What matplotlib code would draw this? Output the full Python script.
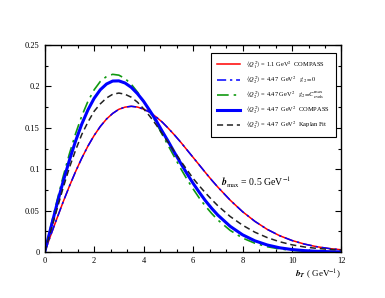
import matplotlib
matplotlib.use("Agg")
import matplotlib.pyplot as plt
from matplotlib.ticker import MultipleLocator

b = [0, 0.25, 0.5, 0.75, 1, 1.25, 1.5, 1.75, 2, 2.25, 2.5, 2.75, 3, 3.25, 3.5,
     3.75, 4, 4.25, 4.5, 4.75, 5, 5.25, 5.5, 5.75, 6, 6.25, 6.5, 6.75, 7,
     7.5, 8, 8.5, 9, 9.5, 10, 10.5, 11, 11.5, 12]
red_q1 = [0, 0.0207, 0.0410, 0.0608, 0.0796, 0.0972, 0.1134, 0.1280, 0.1408,
          0.1517, 0.1606, 0.1674, 0.1724, 0.1750, 0.1760, 0.1751, 0.1726,
          0.1688, 0.1633, 0.1570, 0.1494, 0.1413, 0.1327, 0.1235, 0.1144,
          0.1052, 0.0960, 0.0870, 0.0785,
          0.0627, 0.0488, 0.0371, 0.0274, 0.0198, 0.0140, 0.0097, 0.0065,
          0.0043, 0.0028]
blue_g0 = [0, 0.0207, 0.0410, 0.0608, 0.0796, 0.0972, 0.1134, 0.1280, 0.1408,
           0.1517, 0.1606, 0.1674, 0.1724, 0.1750, 0.1760, 0.1751, 0.1726,
           0.1688, 0.1633, 0.1570, 0.1494, 0.1413, 0.1327, 0.1235, 0.1144,
           0.1052, 0.0960, 0.0870, 0.0785,
           0.0627, 0.0488, 0.0371, 0.0274, 0.0198, 0.0140, 0.0097, 0.0065,
           0.0043, 0.0028]
green_cmax = [0, 0.0315, 0.0622, 0.0915, 0.1186, 0.1430, 0.1643, 0.1820,
              0.1959, 0.2060, 0.2120, 0.2146, 0.2136, 0.2095, 0.2026, 0.1933,
              0.1823, 0.1698, 0.1564, 0.1421, 0.1283, 0.1146, 0.1009, 0.0881,
              0.0763, 0.0653, 0.0555, 0.0467, 0.0388,
              0.0262, 0.0170, 0.0107, 0.0065, 0.0038, 0.0022, 0.0012, 0.0006,
              0.0003, 0.0001]
blue_compass = [0, 0.0293, 0.0580, 0.0854, 0.1109, 0.1341, 0.1545, 0.1717,
                0.1856, 0.1960, 0.2029, 0.2065, 0.2067, 0.2041, 0.1989, 0.1913,
                0.1820, 0.1708, 0.1591, 0.1460, 0.1334, 0.1201, 0.1073, 0.0949,
                0.0831, 0.0722, 0.0620, 0.0529, 0.0447,
                0.0311, 0.0209, 0.0136, 0.0086, 0.0052, 0.0031, 0.0018, 0.0010,
                0.0005, 0.0003]
black_kaplan = [0, 0.026, 0.052, 0.078, 0.102, 0.123, 0.142, 0.157, 0.170,
                0.179, 0.186, 0.1905, 0.192, 0.1905, 0.187, 0.181, 0.173,
                0.164, 0.154, 0.143, 0.132, 0.121, 0.110, 0.0995, 0.089,
                0.080, 0.0715, 0.0635, 0.056,
                0.043, 0.0325, 0.024, 0.0175, 0.0125, 0.0088, 0.0062, 0.0045,
                0.0033, 0.0025]

labels = [
    r"$\langle Q_1^{\,2}\rangle$ = 1.1 GeV$^2$  COMPASS",
    r"$\langle Q_2^{\,2}\rangle$ = 4.47  GeV$^2$   $g_2 = 0$",
    r"$\langle Q_2^{\,2}\rangle$ = 4.47 GeV$^2$   $g_2\!=\!C^{\rm max}_{\rm evols}$",
    r"$\langle Q_2^{\,2}\rangle$ = 4.47  GeV$^2$  COMPASS",
    r"$\langle Q_2^{\,2}\rangle$ = 4.47  GeV$^2$  Kaplan Fit",
]
xticks = [0, 2, 4, 6, 8, 10, 12]
yticks = [0, 0.05, 0.1, 0.15, 0.2, 0.25]
yticklabels = ["0", "0.05", "0.1", "0.15", "0.2", "0.25"]

plt.rcParams['font.family'] = ['Liberation Serif', 'DejaVu Serif']
plt.rcParams['mathtext.fontset'] = 'stix'

fig = plt.figure(figsize=(3.85, 2.98), dpi=100)
ax = fig.add_axes([0.116, 0.154, 0.771, 0.695])

ax.plot(b, red_q1, color='red', lw=1.1, label=labels[0])
ax.plot(b, blue_g0, color='blue', lw=1.1, dashes=(6, 2.5, 1.5, 2.5), label=labels[1])
ax.plot(b, green_cmax, color='#119911', lw=1.2, dashes=(7, 3, 1.5, 3), label=labels[2])
ax.plot(b, blue_compass, color='blue', lw=2.2, label=labels[3])
ax.plot(b, black_kaplan, color='#222222', lw=1.1, dashes=(4, 2.5), label=labels[4])

ax.set_xlim(0, 12)
ax.set_ylim(0, 0.25)
ax.set_xticks(xticks)
ax.set_xticklabels([str(x) for x in xticks])
ax.set_yticks(yticks)
ax.set_yticklabels(yticklabels)
ax.xaxis.set_minor_locator(MultipleLocator(2/3))
ax.yaxis.set_minor_locator(MultipleLocator(0.025))
ax.tick_params(which='both', direction='in', top=True, right=True, labelsize=6, width=0.8)
ax.tick_params(which='major', length=4)
ax.tick_params(which='minor', length=2)
for s in ax.spines.values():
    s.set_linewidth(1.0)

ax.text(1.0, -0.075, r"$\boldsymbol{b}_{\boldsymbol{T}}$ ( GeV$^{-1}$)", transform=ax.transAxes,
        ha='right', va='top', fontsize=6.5)
ax.text(0.595, 0.335, r"$\boldsymbol{b}_{\rm max}$ = 0.5 GeV$^{-1}$", transform=ax.transAxes,
        ha='left', va='center', fontsize=7)

leg = ax.legend(loc='upper right', bbox_to_anchor=(0.981, 0.96), fontsize=4.6,
                frameon=True, fancybox=False, edgecolor='black', framealpha=1,
                handlelength=3.6, handletextpad=1.0, labelspacing=0.6,
                borderpad=0.9, borderaxespad=0)
leg.get_frame().set_linewidth(0.8)

fig.savefig("out.png", dpi=100)
